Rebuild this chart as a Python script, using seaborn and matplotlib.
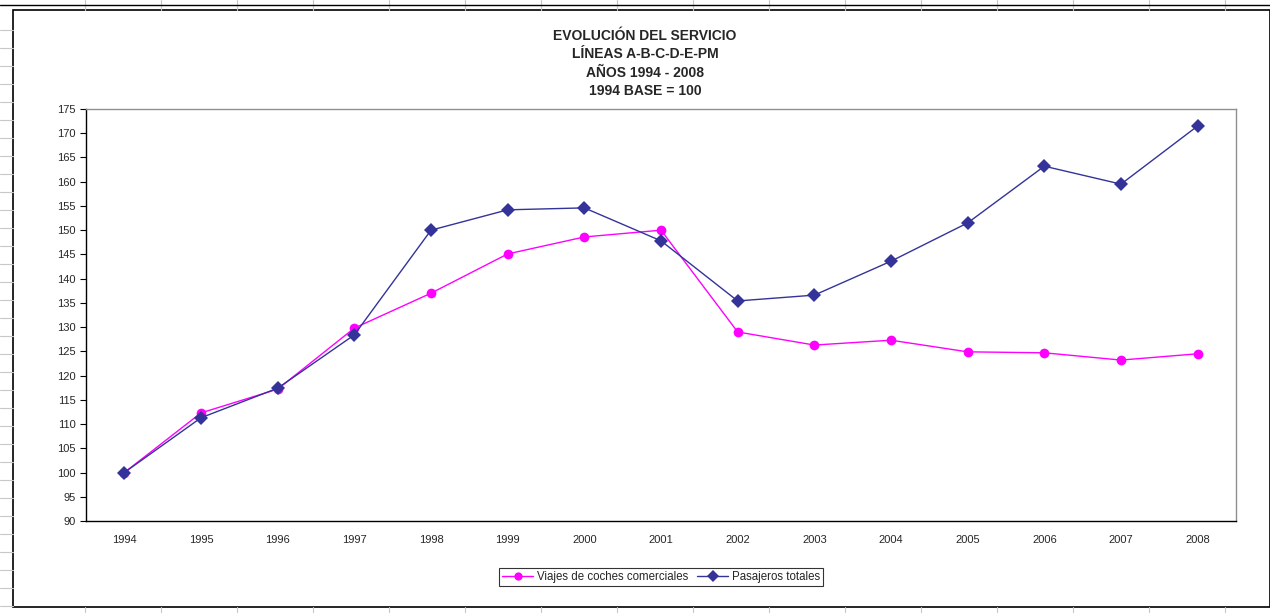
import pandas as pd
import seaborn as sns
import matplotlib.pyplot as plt
from matplotlib.lines import Line2D
from matplotlib.patches import Rectangle

# Values (index, 1994 = 100)
years = ['1994', '1995', '1996', '1997', '1998', '1999', '2000', '2001',
         '2002', '2003', '2004', '2005', '2006', '2007', '2008']
viajes = [100.0, 112.3, 117.2, 129.8, 137.0, 145.1, 148.6, 150.0,
          129.0, 126.3, 127.3, 124.9, 124.7, 123.2, 124.5]
pasajeros = [100.0, 111.3, 117.4, 128.4, 150.0, 154.2, 154.6, 147.8,
             135.4, 136.6, 143.6, 151.5, 163.2, 159.5, 171.5]
series_names = ['Viajes de coches comerciales', 'Pasajeros totales']
y_ticks = list(range(90, 176, 5))

df = pd.DataFrame({'year': years, series_names[0]: viajes, series_names[1]: pasajeros})
df = df.melt(id_vars='year', var_name='serie', value_name='valor')

sns.set_style('white')
plt.rcParams['font.family'] = ['Liberation Sans', 'DejaVu Sans']

fig = plt.figure(figsize=(12.7, 6.13), dpi=100)
W, H = 1270, 613

# spreadsheet cell lines behind the chart object
for x in range(85, W, 76):
    fig.add_artist(Line2D([x / W, x / W], [1 - 10 / H, 1], color='#c8c8c8', lw=0.8))
    fig.add_artist(Line2D([x / W, x / W], [0, 1 - 607 / H], color='#c8c8c8', lw=0.8))
for y in range(30, 607, 18):
    fig.add_artist(Line2D([0, 13 / W], [1 - y / H, 1 - y / H], color='#c8c8c8', lw=0.8))
fig.add_artist(Line2D([0, 1], [1 - 5 / H, 1 - 5 / H], color='black', lw=1.0))
fig.add_artist(Rectangle((13 / W, 1 - 607 / H), 1 - 13 / W, (607 - 10) / H,
                         transform=fig.transFigure, fill=False, edgecolor='black', lw=1.2))

ax = fig.add_axes([86 / W, 1 - 521 / H, (1236 - 86) / W, (521 - 109) / H])
sns.lineplot(data=df, x='year', y='valor', hue='serie', style='serie',
             palette=['#ff00ff', '#333399'], markers=['o', 'D'], dashes=False,
             markersize=7, markeredgewidth=0, linewidth=1, sort=False, ax=ax)

ax.set_xlim(-0.5, len(years) - 0.5)
ax.set_ylim(90, 175)
ax.set_yticks(y_ticks)
ax.set_xticks(range(len(years)))
ax.set_xticklabels(years)
ax.set_xticks([i - 0.5 for i in range(len(years) + 1)], minor=True)
ax.tick_params(axis='x', which='major', length=0, pad=10, labelsize=8)
ax.tick_params(axis='x', which='minor', length=4, direction='out', color='black')
ax.tick_params(axis='y', length=4, direction='out', labelsize=8, color='black', left=True)
ax.set_xlabel('')
ax.set_ylabel('')
for side in ['top', 'right']:
    ax.spines[side].set_color('#909090')
for side in ['left', 'bottom']:
    ax.spines[side].set_color('black')
for s in ax.spines.values():
    s.set_linewidth(1)

fig.text(0.508, 1 - 29 / H, 'EVOLUCIÓN DEL SERVICIO\nLÍNEAS A-B-C-D-E-PM\nAÑOS 1994 - 2008\n1994 BASE = 100',
         ha='center', va='top', fontsize=10, fontweight='bold', linespacing=1.4)

handles, labels = ax.get_legend_handles_labels()
ax.legend_.remove()
leg = fig.legend(handles, labels, loc='center', bbox_to_anchor=(661 / W, 1 - 577 / H), ncol=2,
                 fontsize=8.3, frameon=True, fancybox=False, edgecolor='black', markerscale=0.85,
                 handlelength=2.7, handletextpad=0.3, columnspacing=0.8, borderpad=0.3)
leg.get_frame().set_linewidth(0.8)

fig.savefig('out.png', dpi=100)
